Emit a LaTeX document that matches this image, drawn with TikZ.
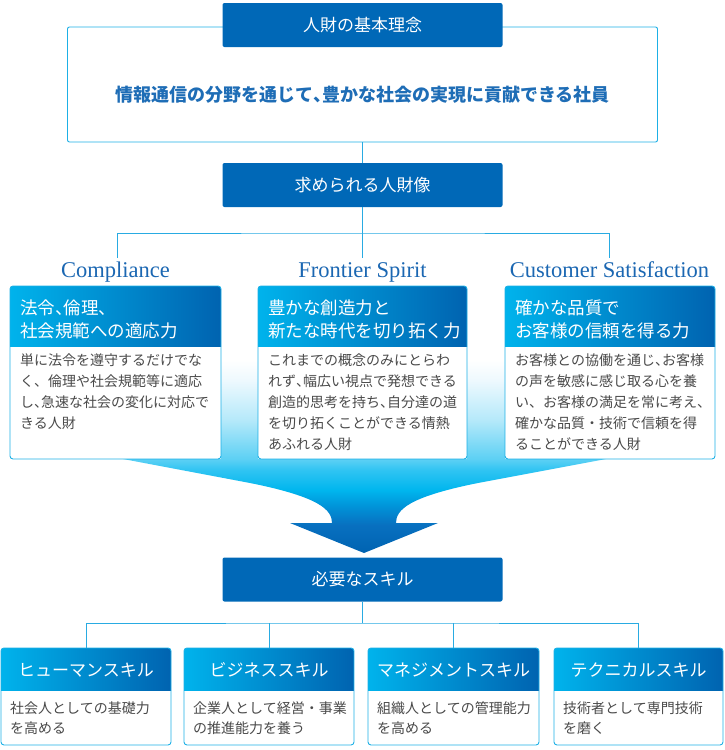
\documentclass[tikz,border=0pt]{standalone}
\usepackage{fontspec}
\setmainfont{Liberation Serif}
\newfontfamily\jp{Noto Sans CJK JP}
\newfontfamily\jph[RawFeature=+halt]{Noto Sans CJK JP}
\newcommand\hk{{\jph 、}}
\usetikzlibrary{calc}
\definecolor{boxblue}{HTML}{0068B7}
\definecolor{connc}{HTML}{29ABE2}
\definecolor{cardline}{HTML}{1DB0E6}
\definecolor{hcyan}{HTML}{00B3EC}
\definecolor{hblue}{HTML}{0063B0}
\definecolor{headblue}{HTML}{1B67B2}
\definecolor{mainblue}{HTML}{1E6DB6}
\definecolor{bodygray}{HTML}{4A4A4A}
\definecolor{fa}{HTML}{0063B1}
\definecolor{fb}{HTML}{0870C0}
\definecolor{fc}{HTML}{0096DA}
\definecolor{fd}{HTML}{00B6EE}
\definecolor{fe}{HTML}{30C4F2}
\definecolor{ff}{HTML}{5CD0F4}
\definecolor{fg}{HTML}{B5E9FA}
\definecolor{fh}{HTML}{EEF9FE}
\pgfdeclareverticalshading{funnelshade}{100bp}{color(0bp)=(fa); color(25bp)=(fa); color(31.6bp)=(fb); color(36.3bp)=(fc); color(39.8bp)=(fd); color(44.5bp)=(fe); color(47bp)=(ff); color(56.2bp)=(fg); color(65.6bp)=(fh); color(70.3bp)=(white); color(100bp)=(white)}
\newcommand\mkcard[6]{%
  \node[cardnode, minimum width=#4pt, minimum height=#5pt, anchor=north west] (#1) at (#2,#3) {};
  \begin{scope}
    \clip[rounded corners=3pt] (#1.north west) rectangle (#1.south east);
    \shade[left color=hcyan, right color=hblue] (#1.north west) rectangle ($(#1.north east)+(0,#6)$);
  \end{scope}
  \draw[cardborder] (#1.north west) rectangle (#1.south east);
}
\begin{document}
\begin{tikzpicture}[x=1pt,y=-1pt,
  titlebox/.style={fill=boxblue, rounded corners=2pt, text=white, inner sep=0pt, outer sep=0pt,
    minimum width=280pt, minimum height=44pt, font=\jp\fontsize{17}{20}\selectfont},
  framebox/.style={draw=cardline, line width=0.9pt, rounded corners=2pt, fill=white, inner sep=0pt, outer sep=0pt},
  conn/.style={draw=connc, line width=1pt},
  cardnode/.style={fill=white, inner sep=0pt, outer sep=0pt},
  cardborder/.style={draw=cardline, line width=0.9pt, rounded corners=3pt},
  enghead/.style={text=headblue, font=\fontsize{22.5}{26}\selectfont, inner sep=0pt, anchor=base},
  hdtext/.style={text=white, font=\jp\fontsize{17.5}{23}\selectfont, align=left, inner sep=0pt, anchor=base west},
  bdtext/.style={text=bodygray, font=\jp\fontsize{14}{21}\selectfont, align=left, inner sep=0pt, anchor=base west},
  skhead/.style={text=white, font=\jp\fontsize{17}{20}\selectfont, inner sep=0pt, anchor=base},
  skbody/.style={text=bodygray, font=\jp\fontsize{14}{20}\selectfont, align=left, inner sep=0pt, anchor=base west}
]
\useasboundingbox (0,0) rectangle (724,750);

% ---- top philosophy
\node[framebox, minimum width=590pt, minimum height=115pt] (fr) at (362.5,84.5) {};
\node[titlebox] (t1) at (362.5,25) {人財の基本理念};
\node[text=mainblue, inner sep=0pt, font=\jp\bfseries\fontsize{18}{22}\selectfont] (mt) at (362.5,95)
  {情報通信の分野を通じて\hk 豊かな社会の実現に貢献できる社員};
\node[titlebox] (t2) at (362.5,185) {求められる人財像};
\draw[conn] (fr.south) -- (t2.north);

% ---- funnel
\shade[shading=funnelshade] (110,340) -- (618,340) -- (606,459) -- (478,483)
  .. controls (408,497) and (396,510) .. (396,523) -- (438,523) -- (364,553) -- (290,523) -- (332,523)
  .. controls (332,510) and (320,497) .. (250,483) -- (123,459) -- cycle;

% ---- connectors to headings
\coordinate (j1) at (362.5,233);
\coordinate (e1) at (117,258);
\coordinate (e2) at (362.5,258);
\coordinate (e3) at (609,258);
\draw[conn] (t2.south) -- (j1);
\draw[conn] (e1) |- (j1) -| (e3);
\draw[conn] (j1) -- (e2);

\node[enghead] (h1) at (115.5,277) {Compliance};
\node[enghead] (h2) at (362.5,277) {Frontier Spirit};
\node[enghead] (h3) at (609.5,277) {Customer Satisfaction};

% ---- three cards
\mkcard{c1}{10}{286}{211}{173}{60}
\mkcard{c2}{258}{286}{209}{173}{60}
\mkcard{c3}{505}{286}{210}{173}{60}

% (base anchor of a multi-line node = baseline of its last line)
\node[hdtext] (c1h) at (20,337) {法令\hk 倫理\hk\\社会規範への適応力};
\node[hdtext] (c2h) at (268,337) {豊かな創造力と\\新たな時代を切り拓く力};
\node[hdtext] (c3h) at (515,337) {確かな品質で\\お客様の信頼を得る力};

\node[bdtext] (c1b) at (20,428.5) {単に法令を遵守するだけでな\\く、倫理や社会規範等に適応\\し\hk 急速な社会の変化に対応で\\きる人財};
\node[bdtext] (c2b) at (268,449.5) {これまでの概念のみにとらわ\\れず\hk 幅広い視点で発想できる\\創造的思考を持ち\hk 自分達の道\\を切り拓くことができる情熱\\あふれる人財};
\node[bdtext] (c3b) at (515,449.5) {お客様との協働を通じ\hk お客様\\の声を敏感に感じ取る心を養\\い、お客様の満足を常に考え\hk\\確かな品質・技術で信頼を得\\ることができる人財};

% ---- skills
\node[titlebox] (t3) at (362.5,579.5) {必要なスキル};

\mkcard{s1}{1}{648}{170}{97}{42}
\mkcard{s2}{184}{648}{170}{97}{42}
\mkcard{s3}{368}{648}{171}{97}{42}
\mkcard{s4}{554}{648}{169}{97}{42}

\coordinate (k) at (362.5,623);
\draw[conn] (t3.south) -- (k);
\draw[conn] (s1.north) |- (k) -| (s4.north);
\draw[conn] (s2.north) -- (s2.north |- k);
\draw[conn] (s3.north) -- (s3.north |- k);

\node[skhead] (s1h) at (s1.north |- 0,676.5) {ヒューマンスキル};
\node[skhead] (s2h) at (s2.north |- 0,676.5) {ビジネススキル};
\node[skhead] (s3h) at (s3.north |- 0,676.5) {マネジメントスキル};
\node[skhead] (s4h) at (s4.north |- 0,676.5) {テクニカルスキル};

\node[skbody] (s1b) at (10,733.5) {社会人としての基礎力\\を高める};
\node[skbody] (s2b) at (193,733.5) {企業人として経営・事業\\の推進能力を養う};
\node[skbody] (s3b) at (377,733.5) {組織人としての管理能力\\を高める};
\node[skbody] (s4b) at (563,733.5) {技術者として専門技術\\を磨く};
\end{tikzpicture}
\end{document}
